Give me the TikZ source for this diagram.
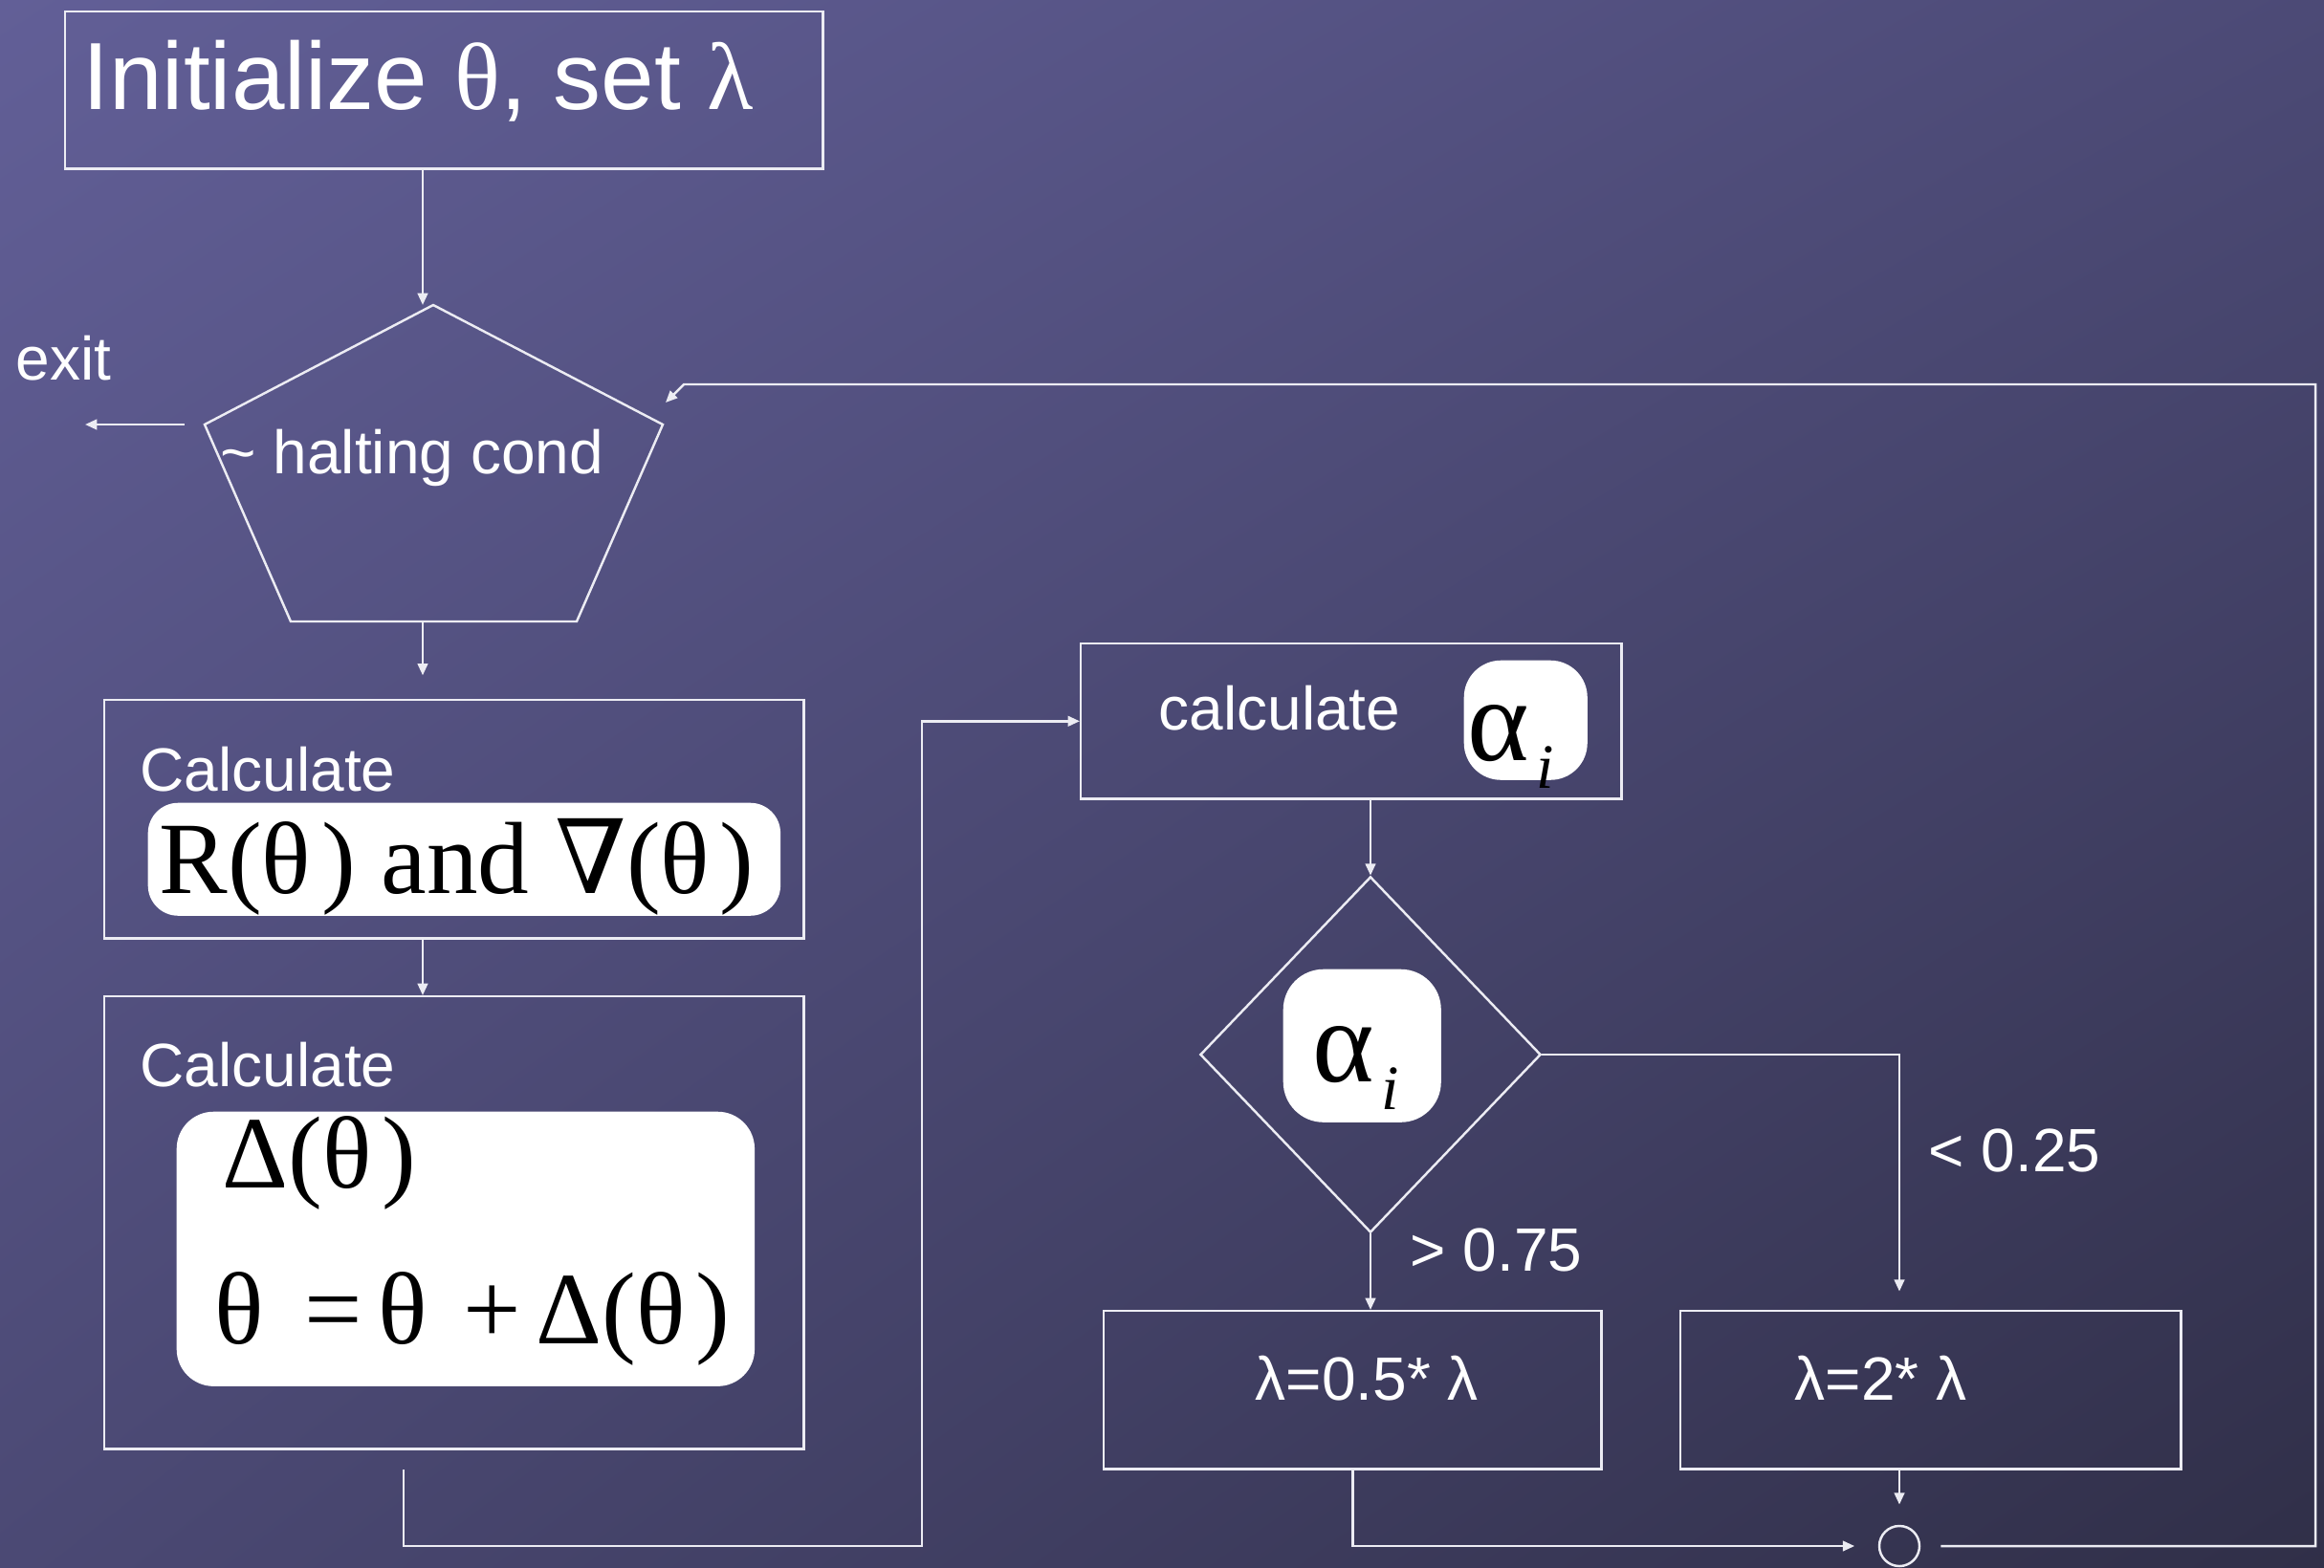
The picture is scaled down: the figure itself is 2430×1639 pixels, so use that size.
\documentclass[tikz,border=0pt]{standalone}
\usepackage{fontspec}
\setmainfont{Liberation Sans}
\newfontfamily\grk{Liberation Serif}
\newfontfamily\nablafont{DejaVu Serif}
\usetikzlibrary{arrows.meta, positioning, shapes.geometric, shadings}

\definecolor{bgTL}{HTML}{625F97}
\definecolor{bgTR}{HTML}{4C4A76}
\definecolor{bgBL}{HTML}{4B4974}
\definecolor{bgBR}{HTML}{302F48}
\definecolor{ink}{HTML}{ECECF3}

% alpha with lowered italic i
\newcommand{\alphasub}{{\grk\fontsize{35}{40}\selectfont α\hspace{0.06em}\raisebox{-8.5pt}{\fontsize{18.8}{22}\selectfont\itshape i}}}
\newcommand{\thin}{\hspace{0.1em}}

\begin{document}
\begin{tikzpicture}[x=0.01cm, y=-0.01cm,
        frame/.style={draw=ink, line width=0.7pt, inner sep=0pt, anchor=north west},
        pill/.style={fill=white, rounded corners=9pt, inner sep=0pt, anchor=north west},
        lbl/.style={text=white, inner sep=0pt, anchor=base west,
                    font=\fontsize{18.2}{22}\selectfont},
        formula/.style={text=black, inner sep=0pt, anchor=base west,
                    font=\grk\fontsize{30.5}{36}\selectfont},
        wire/.style={draw=ink, line width=0.7pt},
        arr/.style={wire, -{Triangle[length=3.5pt, width=3pt]}}
      ]
        \shade[upper left=bgTL, upper right=bgTR, lower left=bgBL, lower right=bgBR]
              (0,0) rectangle (2430,1639);
        \coordinate (spine) at (442,0);

        % start
        \node[frame, minimum width=7.92cm, minimum height=1.64cm] (init) at (67,11) {};
        \node[lbl, font=\fontsize{28.4}{34}\selectfont] (initlbl) at (86,114)
              {Initialize {\grk θ}, set {\grk λ}};

        % halting test
        \coordinate (ptop) at (453,319);
        \coordinate (pur)  at (693,444);
        \coordinate (plr)  at (603,650);
        \coordinate (pll)  at (304,650);
        \coordinate (pul)  at (214,444);
        \draw[wire] (ptop) -- (pur) -- (plr) -- (pll) -- (pul) -- cycle;
        \node[lbl] (haltlbl) at (230,495) {\textasciitilde{} halting cond};
        \coordinate (exitpt) at (89,444);
        \node[lbl] (exitlbl) at (16,397) {exit};
        \draw[arr, shorten <=6pt] (pul) -- (exitpt);

        % gradient step
        \node[frame, minimum width=7.31cm, minimum height=2.49cm] (calc1) at (108,731) {};
        \node[lbl] (calc1lbl) at (146,827) {Calculate};
        \node[pill, minimum width=6.61cm, minimum height=1.18cm] (grad) at (154,839) {};
        \node[formula] (gradlbl) at (166,934) {R(θ\thin) and {\nablafont ∇}(θ\thin)};

        \node[frame, minimum width=7.31cm, minimum height=4.73cm] (calc2) at (108,1041) {};
        \node[lbl] (calc2lbl) at (146,1136) {Calculate};
        \node[pill, rounded corners=11pt, minimum width=6.04cm, minimum height=2.87cm] (upd) at (184,1162) {};
        \node[formula] (deltalbl) at (232,1242) {Δ(θ\thin)};
        \node[formula] (updlbl) at (224,1405)
              {θ\hspace{0.4em}=\hspace{0.15em}θ\hspace{0.35em}+\hspace{0.15em}Δ(θ\thin)};

        \draw[arr] (init.south -| spine) -- (ptop -| spine);
        \draw[arr, shorten >=7pt] (pll -| spine) -- (calc1.north -| spine);
        \draw[arr] (calc1.south -| spine) -- (calc2.north -| spine);

        % ratio
        \node[frame, minimum width=5.65cm, minimum height=1.62cm] (calpha) at (1129,672) {};
        \node[lbl] (calphalbl) at (1211,763) {calculate};
        \node[pill, rounded corners=11pt, minimum width=1.29cm, minimum height=1.25cm] (a1box) at (1530,690) {};
        \node[formula] (a1lbl) at (1534,795) {\alphasub};

        \coordinate (c2out) at (422,1537);
        \coordinate (jog) at (964,1617);
        \draw[arr] (c2out) |- (jog) |- (calpha.west);

        \node[draw=ink, line width=0.7pt, diamond, minimum width=3.56cm,
              minimum height=3.72cm, inner sep=0pt] (dia) at (1433,1103) {};
        \node[pill, rounded corners=12pt, minimum width=1.65cm, minimum height=1.60cm] (a2box) at (1341,1013) {};
        \node[formula] (a2lbl) at (1372,1131) {\alphasub};
        \draw[arr] (calpha.south -| dia.north) -- (dia.north);

        % lambda update
        \node[frame, minimum width=5.20cm, minimum height=1.65cm] (half) at (1153,1370) {};
        \node[lbl] (halflbl) at (1312,1464) {λ=0.5* λ};
        \node[frame, minimum width=5.23cm, minimum height=1.65cm] (dbl) at (1756,1370) {};
        \node[lbl] (dbllbl) at (1876,1464) {λ=2* λ};
        \node[lbl] (gtlbl) at (1474,1329) {> 0.75};
        \node[lbl] (ltlbl) at (2016,1225) {< 0.25};
        \node[draw=ink, line width=0.7pt, circle, minimum size=0.42cm, inner sep=0pt] (ring) at (1986,1617) {};

        \draw[arr] (dia.south) -- (dia.south |- half.north);
        \draw[arr, shorten >=5.5pt] (dia.east) -| (dbl.north -| ring);
        \draw[arr, shorten >=7pt] (half.south) |- (ring.west);
        \draw[arr, shorten >=6pt] (dbl.south -| ring) -- (ring.north);

        % back to the test
        \coordinate (back) at (2421,402);
        \coordinate (bend) at (715,402);
        \coordinate (entry) at (696,421);
        \draw[arr, shorten <=6pt] (ring.east) -| (back) -- (bend) -- (entry);
      \end{tikzpicture}
\end{document}
